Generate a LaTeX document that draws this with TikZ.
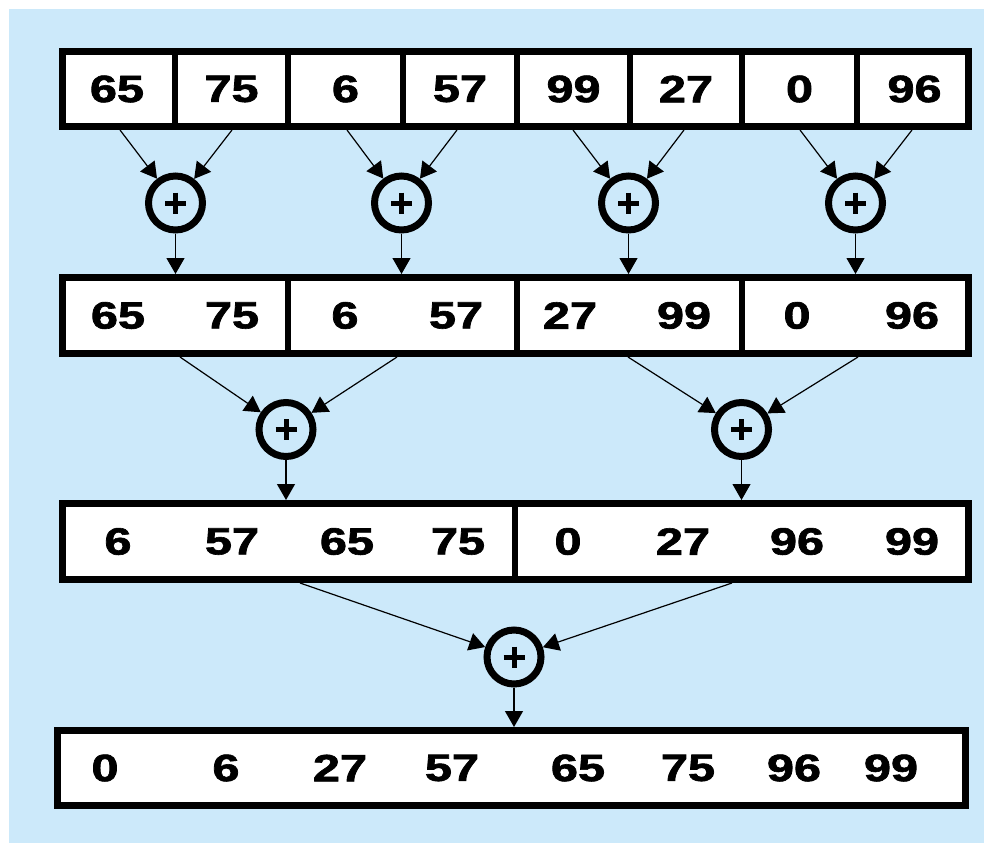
\documentclass[tikz,border=0pt]{standalone}
\usepackage{fontspec}
\setmainfont{Liberation Sans}
\newfontfamily\numfont[FakeBold=1.6]{Liberation Sans Bold}
\usetikzlibrary{arrows.meta}
\definecolor{bgblue}{RGB}{204,233,250}
\newcommand{\wnum}[1]{\scalebox{1.28}[1]{#1}}
\begin{document}
\begin{tikzpicture}[x=1pt,y=-1pt,
  rowbox/.style={draw, line width=7pt, fill=white, inner sep=0pt, minimum height=75pt},
  divider/.style={line width=6pt},
  num/.style={font=\fontsize{38}{40}\numfont, inner sep=0pt},
  adder/.style={circle, draw, line width=7pt, minimum size=54pt, inner sep=0pt},
  plus/.style={line width=5pt},
  conn/.style={line width=1.2pt, -{Triangle[length=16pt,width=18pt]}},
]
\useasboundingbox (0,0) rectangle (984,843);
\fill[white] (0,0) rectangle (984,843);
\fill[bgblue] (9,9) rectangle (984,843);

% rows
\node[rowbox, minimum width=906pt] (row1) at (515.5,89) {};
\node[rowbox, minimum width=906pt, minimum height=76pt] (row2) at (515.5,315.5) {};
\node[rowbox, minimum width=906pt, minimum height=76pt] (row3) at (515.5,541.5) {};
\node[rowbox, minimum width=908pt] (row4) at (511.5,768) {};

% dividers
\foreach \x in {175,288,403,517,630,742,857} \draw[divider] (\x,51.5) -- (\x,126.5);
\foreach \x in {288,517,742} \draw[divider] (\x,277.5) -- (\x,353.5);
\draw[divider] (515,503.5) -- (515,579.5);

% numbers
\foreach \x/\v [count=\i] in {117/65,231.5/75,345.5/6,460/57,573.5/99,686/27,799.5/0,914.5/96}
  \node[num] (n1\i) at (\x,89) {\wnum{\v}};
\foreach \x/\v [count=\i] in {118/65,232/75,345/6,456/57,570/27,684/99,797/0,912/96}
  \node[num] (n2\i) at (\x,315.5) {\wnum{\v}};
\foreach \x/\v [count=\i] in {118/6,232/57,347/65,458/75,568/0,683/27,797/96,912/99}
  \node[num] (n3\i) at (\x,541.5) {\wnum{\v}};
\foreach \x/\v [count=\i] in {105/0,226/6,340/27,452/57,578/65,688/75,794/96,891/99}
  \node[num] (n4\i) at (\x,768) {\wnum{\v}};

% adders
\node[adder] (c11) at (175.5,203) {};
\node[adder] (c12) at (401.5,203) {};
\node[adder] (c13) at (628.5,203) {};
\node[adder] (c14) at (855.5,203) {};
\node[adder] (c21) at (286,429.5) {};
\node[adder] (c22) at (741.5,429.5) {};
\node[adder] (c3) at (514,657) {};
\foreach \c in {c11,c12,c13,c14,c21,c22,c3}
  \draw[plus] (\c.center) ++(-10.5,0) -- ++(21,0) (\c.center) ++(0,-10.5) -- ++(0,21);

% connector start points
\foreach \x [count=\i] in {120,232,347,457,573,684,800,912}
  \coordinate (a\i) at (\x,130);
\foreach \x [count=\i] in {180,397,628,858}
  \coordinate (b\i) at (\x,357);
\coordinate (d1) at (300,583);
\coordinate (d2) at (732,583);

% stage 1
\draw[conn] (a1) -- (c11); \draw[conn] (a2) -- (c11);
\draw[conn] (a3) -- (c12); \draw[conn] (a4) -- (c12);
\draw[conn] (a5) -- (c13); \draw[conn] (a6) -- (c13);
\draw[conn] (a7) -- (c14); \draw[conn] (a8) -- (c14);
\foreach \c in {c11,c12,c13,c14} \draw[conn] (\c) -- (\c |- row2.north);
% stage 2
\draw[conn] (b1) -- (c21); \draw[conn] (b2) -- (c21);
\draw[conn] (b3) -- (c22); \draw[conn] (b4) -- (c22);
\foreach \c in {c21,c22} \draw[conn] (\c) -- (\c |- row3.north);
% stage 3
\draw[conn] (d1) -- (c3); \draw[conn] (d2) -- (c3);
\draw[conn] (c3) -- (c3 |- row4.north);
\end{tikzpicture}
\end{document}
